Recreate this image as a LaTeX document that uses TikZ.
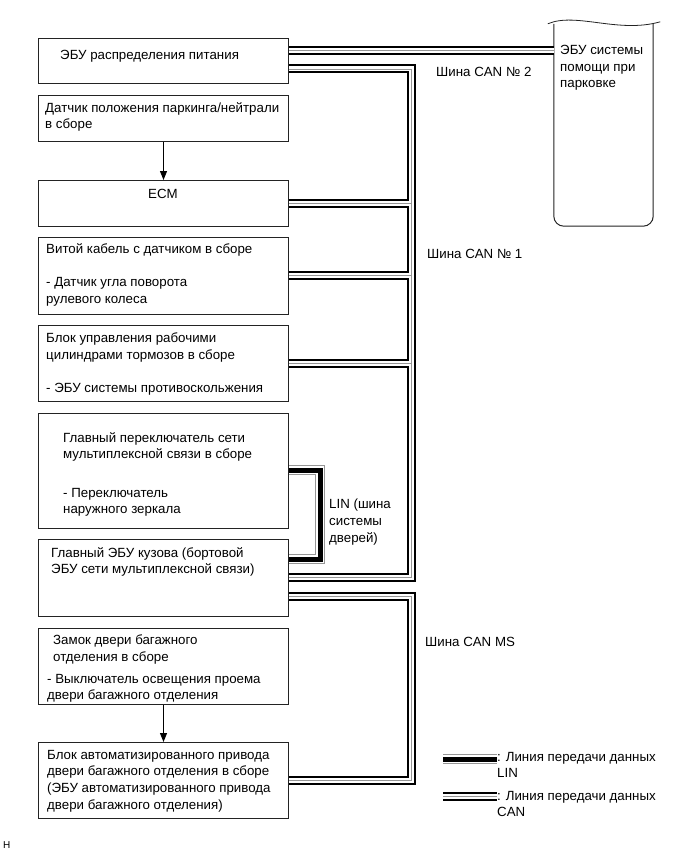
\documentclass[tikz,border=0pt]{standalone}
\usepackage{fontspec}
\setmainfont{Liberation Sans}
\usepackage{tikz}
\usetikzlibrary{arrows.meta,calc}
\definecolor{busGray}{RGB}{150,150,150}
\definecolor{boxLine}{RGB}{35,35,35}

\begin{document}
\begin{tikzpicture}[x=1pt,y=-1pt,
        unit/.style={draw=boxLine,line width=1pt,minimum width=250pt,anchor=north west,inner sep=0pt},
        txt/.style={anchor=north west,align=left,inner sep=0pt,font=\fontsize{13.3}{16.6}\selectfont},
        canbus/.style={draw=black,line width=9pt,
                       postaction={draw=white,line width=5pt},
                       postaction={draw=busGray,line width=0.9pt}},
        linbus/.style={draw=busGray,line width=10pt,
                       postaction={draw=white,line width=8pt},
                       postaction={draw=black,line width=5pt}},
        flow/.style={-{Triangle[length=9pt,width=7pt]},line width=0.8pt}
    ]
    \useasboundingbox (0,0) rectangle (686,856);

    % Units on the left
    \node[unit,minimum height=45pt] (pwr) at (38,38) {};
    \node[unit,minimum height=46pt] (pnp) at (38,95) {};
    \node[unit,minimum height=46pt] (ecm) at (38,180) {};
    \node[unit,minimum height=77pt] (sas) at (38,237) {};
    \node[unit,minimum height=76pt] (abs) at (38,325) {};
    \node[unit,minimum height=115pt] (msw) at (38,413) {};
    \node[unit,minimum height=77pt] (bcm) at (38,539) {};
    \node[unit,minimum height=76pt] (bdl) at (38,628) {};
    \node[unit,minimum height=76pt] (pbd) at (38,742) {};

    % Texts of the units
    \node[txt] (pwr-t) at (60,50) {ЭБУ распределения питания};
    \node[txt] (pnp-t) at (45,102) {Датчик положения паркинга/нейтрали\\в сборе};
    \node[txt,anchor=north] (ecm-t) at (163,189) {ECM};
    \node[txt] (sas-t) at (46,243) {Витой кабель с датчиком в сборе\\[17pt]- Датчик угла поворота\\рулевого колеса};
    \node[txt] (abs-t) at (46,333) {Блок управления рабочими\\цилиндрами тормозов в сборе\\[16pt]- ЭБУ системы противоскольжения};
    \node[txt] (msw-t) at (63,432) {Главный переключатель сети\\мультиплексной связи в сборе\\[22pt]- Переключатель\\наружного зеркала};
    \node[txt] (bcm-t) at (51,547) {Главный ЭБУ кузова (бортовой\\ЭБУ сети мультиплексной связи)};
    \node[txt] (bdl-t) at (47,635) {\hspace*{6pt}Замок двери багажного\\\hspace*{6pt}отделения в сборе\\[5pt]- Выключатель освещения проема\\двери багажного отделения};
    \node[txt] (pbd-t) at (47,750) {Блок автоматизированного привода\\двери багажного отделения в сборе\\(ЭБУ автоматизированного привода\\двери багажного отделения)};

    % Parking assist ECU
    \node[minimum width=99pt,minimum height=202pt,inner sep=0pt] (pas) at (603.5,125) {};
    \draw[boxLine,line width=1pt,rounded corners=10pt] (pas.north west) -- (pas.south west) -- (pas.south east) -- (pas.north east);
    \draw[boxLine,line width=0.8pt] ($(pas.north west)+(-6,0)$) .. controls ($(pas.north west)+(22,-12)$) and ($(pas.north east)+(-35,10)$) .. ($(pas.north east)+(7,-2)$);
    \node[txt] (pas-t) at (560,45) {ЭБУ системы\\помощи при\\парковке};

    % Bus points
    \coordinate (j1) at (411,69);
    \coordinate (j3) at (411,203);
    \coordinate (j4) at (411,275);
    \coordinate (j5) at (411,363);
    \coordinate (j7) at (411,577);
    \coordinate (ms1) at (411,596);
    \coordinate (ms2) at (411,780);
    \coordinate (l1) at (320,470);
    \coordinate (l2) at (320,559);

    % CAN No. 2
    \draw[canbus] ([yshift=10.5pt]pwr.east) -- ([yshift=10.5pt]pwr.east -| pas.west);
    % CAN No. 1
    \draw[canbus] (pwr.east |- j1) -- (j1) -- (j7) -- (bcm.east |- j7)
                  (ecm.east |- j3) -- (j3)
                  (sas.east |- j4) -- (j4)
                  (abs.east |- j5) -- (j5);
    % CAN MS
    \draw[canbus] (bcm.east |- ms1) -- (ms1) -- (ms2) -- (pbd.east |- ms2);
    % LIN
    \draw[linbus] (msw.east |- l1) -- (l1) -- (l2) -- (bcm.east |- l2);

    % Signal arrows
    \draw[flow] (pnp) -- (ecm);
    \draw[flow] (bdl) -- (pbd);

    % Bus labels
    \node[txt] (can2-t) at (436,67) {Шина CAN № 2};
    \node[txt] (can1-t) at (427,249) {Шина CAN № 1};
    \node[txt] (lin-t) at (329,499) {LIN (шина\\системы\\дверей)};
    \node[txt] (canms-t) at (425,637) {Шина CAN MS};

    % Legend
    \node[txt] (lg-lin) at (497,752) {: Линия передачи данных\\LIN};
    \node[txt] (lg-can) at (497,791) {: Линия передачи данных\\CAN};
    \coordinate (lg-lin-a) at (443,759);
    \coordinate (lg-can-a) at (443,796);
    \draw[linbus] (lg-lin-a) -- (lg-lin-a -| lg-lin.west);
    \draw[canbus] (lg-can-a) -- (lg-can-a -| lg-can.west);

    \node[anchor=north west,inner sep=0pt,font=\fontsize{10}{12}\selectfont] (fig-id) at (3,841) {H};
\end{tikzpicture}
\end{document}
